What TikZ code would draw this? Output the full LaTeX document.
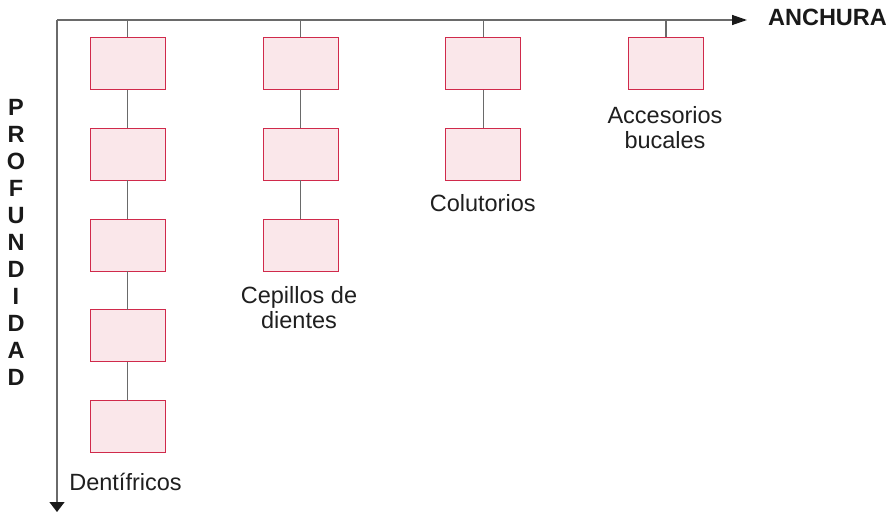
\documentclass[tikz,border=0pt]{standalone}
\usepackage{fontspec}
\setmainfont{Liberation Sans}
\usetikzlibrary{arrows.meta}
\definecolor{boxfill}{HTML}{FAE7EA}
\definecolor{boxdraw}{HTML}{D02A4B}
\definecolor{linegray}{HTML}{6A6A6A}
\definecolor{tipcol}{HTML}{1A1A1A}
\begin{document}
\begin{tikzpicture}[x=1pt,y=-1pt,
  catbox/.style={draw=boxdraw, fill=boxfill, line width=1pt, minimum width=75pt, minimum height=52pt, inner sep=0pt, outer sep=0pt},
  link/.style={draw=linegray, line width=1.1pt},
  axisline/.style={draw=linegray, line width=1.3pt},
  lbl/.style={font=\fontsize{23.5}{25}\selectfont, align=center, inner sep=0pt, text=black!88},
  axlbl/.style={font=\fontsize{23.5}{27}\selectfont\bfseries, inner sep=0pt, text=black!90}]
\useasboundingbox (0,0) rectangle (896,511);

% axes
\coordinate (o) at (57,20);
\coordinate (xend) at (747,20);
\coordinate (yend) at (57,512);
\draw[axisline, -{Triangle[length=15pt,width=10pt,color=tipcol]}] (o) -- (xend);
\draw[axisline, -{Triangle[length=10pt,width=15pt,color=tipcol]}] (o) -- (yend);
\node[axlbl, anchor=base] (anch) at (827.5,26) {ANCHURA};
\foreach \l [count=\i] in {P,R,O,F,U,N,D,I,D,A,D}
  \node[axlbl, anchor=base] (pf\i) at (16, {115+27*(\i-1)}) {\l};

% ticks on the width axis
\coordinate (t1) at (127.8,20);
\coordinate (t2) at (300.7,20);
\coordinate (t3) at (483.3,20);
\coordinate (t4) at (666,20);

% column 1: Dentifricos
\node[catbox] (a1) at (127.8,63.5) {};
\node[catbox] (a2) at (127.8,154.3) {};
\node[catbox] (a3) at (127.8,245) {};
\node[catbox] (a4) at (127.8,335.8) {};
\node[catbox] (a5) at (127.8,426.5) {};
% column 2: Cepillos
\node[catbox] (b1) at (300.7,63.5) {};
\node[catbox] (b2) at (300.7,154.3) {};
\node[catbox] (b3) at (300.7,245) {};
% column 3: Colutorios
\node[catbox] (c1) at (483.3,63.5) {};
\node[catbox] (c2) at (483.3,154.3) {};
% column 4: Accesorios
\node[catbox] (d1) at (666,63.5) {};

\draw[link] (t1) -- (a1.north);
\draw[link] (a1) -- (a2);
\draw[link] (a2) -- (a3);
\draw[link] (a3) -- (a4);
\draw[link] (a4) -- (a5);
\draw[link] (t2) -- (b1.north);
\draw[link] (b1) -- (b2);
\draw[link] (b2) -- (b3);
\draw[link] (t3) -- (c1.north);
\draw[link] (c1) -- (c2);
\draw[link] (t4) -- (d1.north);

% labels
\node[lbl, anchor=base] (la) at (125.5,490.7) {Dentífricos};
\node[lbl, anchor=north] (lb) at (299,286) {Cepillos de\\dientes};
\node[lbl, anchor=base] (lc) at (482.7,211.7) {Colutorios};
\node[lbl, anchor=north] (ld) at (665,106.5) {Accesorios\\bucales};
\end{tikzpicture}
\end{document}
